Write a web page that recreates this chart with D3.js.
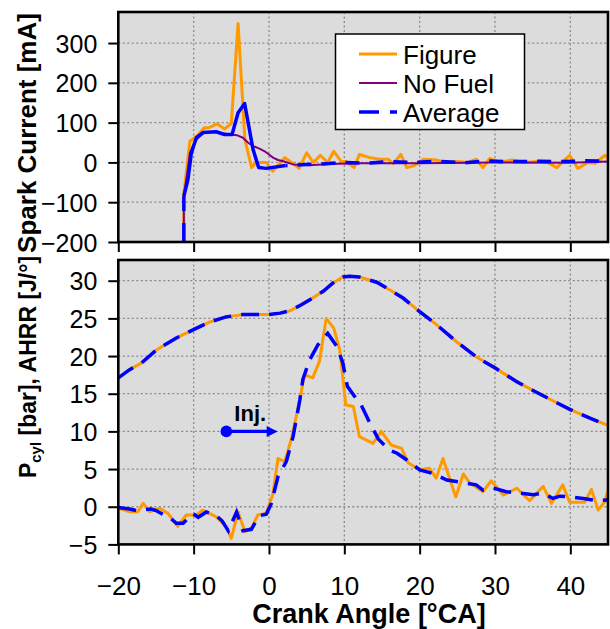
<!DOCTYPE html>
<html><head><meta charset="utf-8">
<script src="https://cdn.jsdelivr.net/npm/d3@7"></script>
<style>html,body{margin:0;padding:0;background:#fff;} text{font-family:"Liberation Sans",Arial,sans-serif;fill:#000;}</style>
</head><body><svg id="c" width="610" height="629"></svg>
<script>
// ---------- DATA ----------
const xTicks = [-20, -10, 0, 10, 20, 30, 40];
const topYTicks = [-200, -100, 0, 100, 200, 300];
const botYTicks = [-5, 0, 5, 10, 15, 20, 25, 30];
const seriesNames = ["Figure", "No Fuel", "Average"];

// Spark current [mA]
const sparkFigureCA = [-11.3,-11.3,-10.5,-10.0,-9.6,-8.6,-8.0,-6.9,-5.9,-5.0,-4.1,-3.2,-2.3,-1.7,-0.35,0.5,2.1,3.0,4.0,5.0,5.9,6.8,7.8,8.6,9.6,10.3,11.3,12.0,13.4,14.7,15.8,16.5,17.5,18.3,19.3,20.5,22.2,23.3,24.9,26.5,27.5,28.4,29.3,30.6,32.2,34.0,35.5,37.0,38.2,39.9,41.0,42.3,43.3,44.6,45.0];
const sparkFigure   = [-200,-80,53,60,66,87,87,97,84,98,349,58,-13,0,0,-22,12,0,-15,24,0,18,0,28,2,2,-13,20,12,8,8,-3,20,-13,-8,8,6,0,2,0,8,-13,10,0,6,0,2,0,-13,18,-15,0,-2,18,10];
const sparkNoFuelCA = [-11.3,-11.3,-10.8,-10.5,-10.0,-9.6,-8.6,-7.0,-5.3,-4.2,-3.45,-2.8,-2.1,-1.2,-0.57,0.0,0.53,1.2,1.9,3.2,5.4,8,12,20,30,40,45];
const sparkNoFuel   = [-200,-85,-20,24,45,58,75,77,70,68,62,50,41,34,28,20,12,6,3,-5,-7,-4,-2,-2,0,-1,2];
const sparkAverageCA = [-11.3,-11.3,-10.76,-10.3,-9.64,-8.76,-7.0,-5.9,-4.9,-4.1,-3.23,-2.12,-1.37,-0.35,2.2,5,8,10,13,16,19,22,26,29,32,36,39,42,45];
const sparkAverage   = [-200,-85,-43,24,62,75,77,70,70,125,148,33,-13,-15,-8,-5,-3,0,-2,2,0,3,-1,4,2,3,2,4,3];

// Cylinder pressure [bar]
const pcylCA = [-20,-18.5,-16.9,-14.95,-12.3,-9.6,-7.9,-5.7,-3.5,-2,0,1.5,2.75,4.3,5.8,7.2,8.5,9.8,10.7,12.0,14.3,16.0,17.8,20.0,22.2,24.9,27.5,30.2,32.9,35.5,38.2,40.0,42.6,45];
const pcyl   = [17.1,18.2,19.1,20.8,22.4,23.7,24.5,25.2,25.5,25.5,25.5,25.7,26.0,26.8,27.7,28.6,29.7,30.5,30.6,30.5,29.8,28.8,27.7,25.9,24.2,21.9,19.9,18.3,16.6,15.2,13.8,12.9,11.75,10.8];

// AHRR [J/deg]
const ahrrFigureCA = [-20,-18.45,-17.4,-16.7,-15.8,-14.5,-13.4,-12.1,-11.0,-9.6,-8.8,-7.0,-5.66,-5.0,-4.1,-3.2,-2.3,-1.5,-0.4,0.5,1.2,2.1,3.0,4.1,4.7,5.8,6.7,7.6,8.6,9.4,10.2,11.2,12.0,13.8,14.9,16.2,17.6,18.5,20.0,21.3,22.2,23.1,24.8,25.8,26.6,28.4,29.5,31.1,32.9,34.6,36.4,37.5,39.0,39.9,41.9,42.8,43.7,44.6,45];
const ahrrFigure   = [-0.2,-0.66,-0.66,0.45,-0.66,-0.2,-0.9,-2.6,-1.1,-1.1,-0.44,-1.33,-2.66,-4.2,-0.7,-3.3,-2.8,-1.1,-0.9,1.6,6.4,6.0,9.1,14.2,17.5,17.1,19.3,25.0,23.7,20.8,13.5,13.3,9.3,8.4,10.0,8.2,7.75,5.8,4.9,5.1,3.8,6.4,1.3,4.35,3.2,2.0,3.45,1.55,2.45,0.8,2.7,0.45,2.9,0.6,0.6,2.3,-0.45,0.7,2.2];
const ahrrAverageCA = [-20,-18.5,-17.6,-16.5,-15.6,-15.0,-14.1,-13.2,-12.3,-11.4,-10.1,-9.4,-8.3,-7.1,-6.2,-5.4,-4.3,-3.45,-2.34,-1.3,-0.35,0.3,1.2,2.3,3.2,4.1,4.5,5.4,6.5,7.8,9.0,9.8,10.4,11.4,12.2,13.4,14.5,16.0,17.0,18.3,20.0,21.8,23.6,25.8,27.5,28.4,29.7,31.5,33.3,35.1,36.4,37.7,38.6,39.9,41.7,43.5,45];
const ahrrAverage   = [-0.1,-0.3,-0.5,-0.4,-0.3,-0.5,-1.0,-1.4,-2.2,-2.2,-0.9,-1.4,-0.7,-1.1,-1.9,-3.2,-0.7,-3.2,-3.0,-1.2,-1.0,0.4,4.0,6.0,9.3,14.2,16.9,19.5,21.5,23.0,21.3,19.1,16.0,14.6,13.6,11.1,9.0,7.5,7.1,6.2,4.9,4.4,3.55,3.2,2.9,2.2,2.5,2.0,1.8,1.6,1.8,1.1,1.4,1.3,1.1,0.8,0.9];

// Injection annotation (crank angle, value)
const injCA = [-5.66, 1.16];
const injValue = 10;

// ---------- STYLE ----------
const C_FIG = "#FF9900", C_NOF = "#800080", C_AVG = "#0000FF";
const BG = "#DCDCDC", GRID = "#8A8A8A";
const DASH = "18,10";
const TICK_FS = 25;

const svg = d3.select("#c");
svg.append("rect").attr("width",610).attr("height",629).attr("fill","#fff");

const x = d3.scaleLinear().domain([-20, 45]).range([118.3, 608]);
const yTop = d3.scaleLinear().domain([-200, 378]).range([242, 12]);
const yBot = d3.scaleLinear().domain([-5, 32.75]).range([544.4, 260]);

function mkLine(y) {
  return (xs, ys) => d3.line().x((d,i)=>x(xs[i])).y((d,i)=>y(ys[i]))(xs);
}

function panel(y, yTicks, id) {
  const [yb, yt] = y.range();
  const [xl, xr] = x.range();
  const g = svg.append("g");
  svg.append("clipPath").attr("id", id).append("rect")
    .attr("x", xl).attr("y", yt).attr("width", xr - xl).attr("height", yb - yt);
  g.append("rect").attr("x", xl).attr("y", yt).attr("width", xr - xl).attr("height", yb - yt).attr("fill", BG);
  g.selectAll(".gx").data(xTicks.filter(t => t > -20)).enter().append("line")
    .attr("x1", d => x(d)).attr("x2", d => x(d)).attr("y1", yt).attr("y2", yb)
    .attr("stroke", GRID).attr("stroke-width", 1.3).attr("stroke-dasharray", "2,2.5");
  g.selectAll(".gy").data(yTicks.filter(t => y(t) < yb - 2)).enter().append("line")
    .attr("x1", xl).attr("x2", xr).attr("y1", d => y(d)).attr("y2", d => y(d))
    .attr("stroke", GRID).attr("stroke-width", 1.3).attr("stroke-dasharray", "2,2.5");
  const plot = g.append("g").attr("clip-path", `url(#${id})`);
  return {g, plot, yb, yt, xl, xr};
}

function frame(p, y, yTicks, showXLabels) {
  const {g, yb, yt, xl, xr} = p;
  g.append("rect").attr("x", xl).attr("y", yt).attr("width", xr - xl).attr("height", yb - yt)
    .attr("fill", "none").attr("stroke", "#000").attr("stroke-width", 2.6);
  const ya = d3.axisLeft(y).tickValues(yTicks).tickSize(10).tickPadding(11);
  const yg = g.append("g").attr("transform", `translate(${xl},0)`).call(ya);
  yg.select(".domain").remove();
  yg.selectAll("line").attr("stroke", "#000").attr("stroke-width", 2);
  yg.selectAll("text").attr("font-size", TICK_FS).attr("dy", "0.36em").attr("fill", "#000")
    .style("font-family", '"Liberation Sans", Arial, sans-serif');
  const xa = d3.axisBottom(x).tickValues(xTicks).tickSize(10)
    .tickFormat(showXLabels ? d3.format("d") : () => "");
  const xg = g.append("g").attr("transform", `translate(0,${yb})`).call(xa);
  xg.select(".domain").remove();
  xg.selectAll("line").attr("stroke", "#000").attr("stroke-width", 2);
  xg.selectAll("text").attr("font-size", 26).attr("y", 32).attr("dy", "0.71em").attr("fill", "#000")
    .style("font-family", '"Liberation Sans", Arial, sans-serif');
}

// ---------- TOP PANEL ----------
const pt = panel(yTop, topYTicks, "clipTop");
const lt = mkLine(yTop);
pt.plot.append("path").attr("d", lt(sparkFigureCA, sparkFigure))
  .attr("fill","none").attr("stroke",C_FIG).attr("stroke-width",3).attr("stroke-linejoin","round");
pt.plot.append("path").attr("d", lt(sparkNoFuelCA, sparkNoFuel))
  .attr("fill","none").attr("stroke",C_NOF).attr("stroke-width",2).attr("stroke-linejoin","round");
const solidStart = 1, solidEnd = sparkAverageCA.findIndex(v => v >= 2.2);
pt.plot.append("path").attr("d", lt(sparkAverageCA.slice(0,2), sparkAverage.slice(0,2)))
  .attr("fill","none").attr("stroke",C_AVG).attr("stroke-width",3.5).attr("stroke-dasharray","19,12");
pt.plot.append("path").attr("d", lt(sparkAverageCA.slice(solidStart, solidEnd+1), sparkAverage.slice(solidStart, solidEnd+1)))
  .attr("fill","none").attr("stroke",C_AVG).attr("stroke-width",3.5).attr("stroke-linejoin","round");
pt.plot.append("path").attr("d", lt(sparkAverageCA.slice(solidEnd), sparkAverage.slice(solidEnd)))
  .attr("fill","none").attr("stroke",C_AVG).attr("stroke-width",3.5).attr("stroke-dasharray","14,10").attr("stroke-dashoffset", -12);
frame(pt, yTop, topYTicks, false);

// legend
const lg = svg.append("g");
lg.append("rect").attr("x",335.5).attr("y",34).attr("width",189).attr("height",95.5)
  .attr("fill","#fff").attr("stroke","#000").attr("stroke-width",1.5);
const legStyles = [
  {c: C_FIG, w: 3, dash: null},
  {c: C_NOF, w: 2, dash: null},
  {c: C_AVG, w: 3.5, dash: "20,11"}
];
seriesNames.forEach((n, i) => {
  const yy = 54 + i * 29;
  const s = legStyles[i];
  const l = lg.append("line").attr("x1",359).attr("x2",397).attr("y1",yy).attr("y2",yy)
    .attr("stroke",s.c).attr("stroke-width",s.w);
  if (s.dash) l.attr("stroke-dasharray", s.dash);
  lg.append("text").attr("x",403).attr("y",yy + 9.5).attr("font-size",26).text(n);
});

// ---------- BOTTOM PANEL ----------
const pb = panel(yBot, botYTicks, "clipBot");
const lb = mkLine(yBot);
pb.plot.append("path").attr("d", lb(pcylCA, pcyl))
  .attr("fill","none").attr("stroke",C_FIG).attr("stroke-width",3).attr("stroke-linejoin","round");
pb.plot.append("path").attr("d", lb(ahrrFigureCA, ahrrFigure))
  .attr("fill","none").attr("stroke",C_FIG).attr("stroke-width",3).attr("stroke-linejoin","round");
pb.plot.append("path").attr("d", lb(pcylCA, pcyl))
  .attr("fill","none").attr("stroke",C_AVG).attr("stroke-width",3.5).attr("stroke-dasharray",DASH);
pb.plot.append("path").attr("d", lb(ahrrAverageCA, ahrrAverage))
  .attr("fill","none").attr("stroke",C_AVG).attr("stroke-width",3.5).attr("stroke-dasharray",DASH);

// injection arrow
const ia = pb.g.append("g");
const ix0 = x(injCA[0]), ix1 = x(injCA[1]), iy = yBot(injValue);
ia.append("line").attr("x1",ix0).attr("x2",ix1 - 9).attr("y1",iy).attr("y2",iy)
  .attr("stroke",C_AVG).attr("stroke-width",3.3);
ia.append("path").attr("d",`M${ix1},${iy} L${ix1-11},${iy-5.5} L${ix1-11},${iy+5.5} Z`).attr("fill",C_AVG);
ia.append("circle").attr("cx",ix0).attr("cy",iy).attr("r",5.8).attr("fill",C_AVG);
ia.append("text").attr("x",ix0 + 8).attr("y",iy - 10).attr("font-size",22).attr("font-weight","bold").text("Inj.");

frame(pb, yBot, botYTicks, true);

// ---------- AXIS TITLES ----------
svg.append("text").attr("x",369).attr("y",623).attr("text-anchor","middle")
  .attr("font-size",27).attr("font-weight","bold").text("Crank Angle [°CA]");
svg.append("text").attr("transform","translate(36,133) rotate(-90)").attr("text-anchor","middle")
  .attr("font-size",26).attr("font-weight","bold").text("Spark Current [mA]");
const yl = svg.append("text").attr("transform","translate(36,367) rotate(-90)").attr("text-anchor","middle")
  .attr("font-size",23).attr("font-weight","bold");
yl.append("tspan").text("P");
yl.append("tspan").attr("font-size",15).attr("dy",5).text("cyl");
yl.append("tspan").attr("dy",-5).text(" [bar], AHRR [J/°]");
</script></body></html>
